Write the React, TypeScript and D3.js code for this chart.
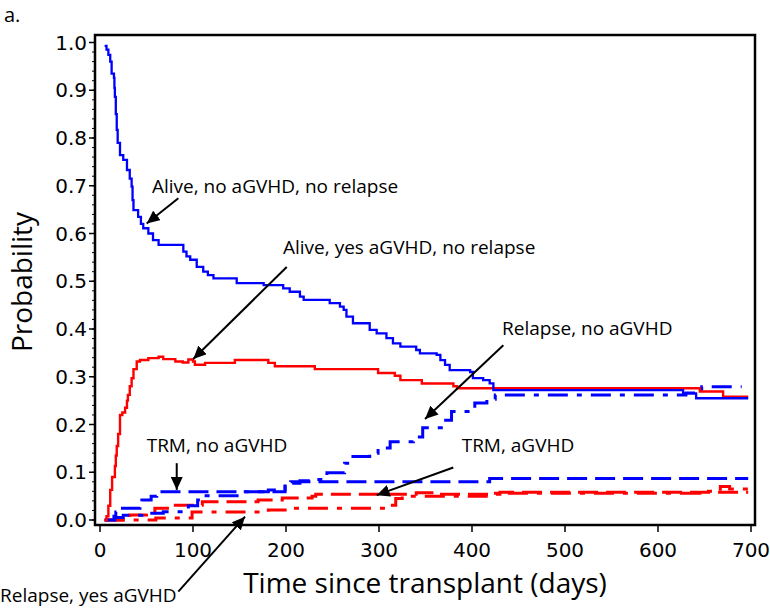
import React from "react";
import * as d3 from "d3";

type Pt = [number, number];

// Step points: [day, probability]
const aliveNoGvhd: Pt[] = [
  [5, 0.993], [7, 0.985], [9, 0.974], [11, 0.96], [12.5, 0.935], [15, 0.926], [15.5, 0.905],
  [16, 0.886], [17, 0.85], [18, 0.817], [19, 0.79], [21.5, 0.764], [25, 0.754], [29, 0.733],
  [32, 0.715], [34, 0.698], [35, 0.67], [36, 0.649], [41, 0.635], [44, 0.62], [46.5, 0.611],
  [52, 0.6], [57, 0.586], [63, 0.576], [89.6, 0.562], [93, 0.552], [97, 0.545], [104, 0.53],
  [111, 0.52], [116, 0.513], [122, 0.506], [147, 0.496], [176, 0.492], [197, 0.485],
  [204, 0.478], [215, 0.468], [219, 0.461], [247, 0.454], [258, 0.447], [262, 0.44],
  [265, 0.426], [272, 0.412], [290, 0.398], [297.5, 0.391], [308, 0.381], [315, 0.37],
  [323, 0.363], [340, 0.356], [344, 0.349], [362, 0.346], [366, 0.335], [371, 0.325],
  [376, 0.314], [398, 0.31], [401, 0.297], [412, 0.293], [419, 0.286], [423, 0.272],
  [627, 0.265], [641, 0.255], [697, 0.255],
];

const aliveYesGvhd: Pt[] = [
  [5, 0], [7, 0.008], [9, 0.03], [11, 0.063], [13, 0.09], [16, 0.113], [17, 0.135], [18, 0.155],
  [19.5, 0.18], [21.5, 0.22], [24, 0.225], [27, 0.235], [29, 0.25], [30, 0.262], [32, 0.28],
  [34, 0.297], [36, 0.316], [39.5, 0.332], [43, 0.335], [52, 0.339], [63, 0.342], [68, 0.337],
  [81, 0.332], [89, 0.33], [95, 0.336], [100, 0.332], [102, 0.325], [113, 0.329], [145, 0.335],
  [181, 0.329], [188, 0.322], [231, 0.316], [299, 0.308], [317, 0.302], [323, 0.293],
  [346, 0.286], [380, 0.28], [384, 0.276], [645, 0.269], [670, 0.258], [697, 0.258],
];

const trmNoGvhd: Pt[] = [
  [5, 0], [15, 0.008], [17, 0.017], [21, 0.0245], [43, 0.035], [45, 0.042], [55, 0.05],
  [61, 0.059], [199, 0.077], [205, 0.08], [419, 0.087], [697, 0.087],
];

const relapseNoGvhd: Pt[] = [
  [15, 0], [16, 0.005], [25, 0.01], [45, 0.014], [68, 0.0175], [95, 0.03], [105, 0.042],
  [109, 0.051], [150, 0.059], [181, 0.063], [199, 0.07], [204, 0.077], [215, 0.082],
  [226, 0.085], [244, 0.099], [263, 0.119], [272, 0.133], [290, 0.14], [299, 0.151],
  [312, 0.164], [337, 0.174], [347, 0.193], [369, 0.209], [378, 0.227], [403, 0.245],
  [416, 0.253], [425, 0.262], [630, 0.266], [647, 0.279], [690, 0.279],
];

const trmGvhd: Pt[] = [
  [5, 0], [32, 0.0105], [50, 0.015], [59, 0.0245], [81, 0.031], [110, 0.038], [170, 0.042],
  [196, 0.046], [228, 0.05], [232, 0.054], [340, 0.057], [360, 0.054], [430, 0.058],
  [697, 0.058],
];

const relapseGvhd: Pt[] = [
  [5, 0], [60, 0.004], [99, 0.017], [181, 0.021], [204, 0.0245], [310, 0.031], [318, 0.045],
  [325, 0.05], [420, 0.056], [645, 0.06], [667, 0.07], [677, 0.065], [697, 0.065],
];

const xTicks = [0, 100, 200, 300, 400, 500, 600, 700];
const yTicks = [0, 0.1, 0.2, 0.3, 0.4, 0.5, 0.6, 0.7, 0.8, 0.9, 1.0];

// annotations: text anchor, arrow tail, arrow tip in data coordinates
const annLabels = [
  "Alive, no aGVHD, no relapse",
  "Alive, yes aGVHD, no relapse",
  "Relapse, no aGVHD",
  "TRM, no aGVHD",
  "TRM, aGVHD",
  "Relapse, yes aGVHD",
];
const annText: Pt[] = [[55.9, 0.685], [196.8, 0.557], [432.3, 0.387], [50.2, 0.143], [388.9, 0.143], [-107.5, -0.171]];
const annTail: Pt[] = [[84.2, 0.674], [200.8, 0.53], [433.7, 0.366], [82.5, 0.119], [379.9, 0.11], [84.2, -0.15]];
const annTip: Pt[] = [[50.2, 0.621], [100.3, 0.337], [349.5, 0.2115], [82.5, 0.063], [297.5, 0.052], [155.9, 0.007]];

const BLUE = "#0000ff";
const RED = "#ff0000";

export default function App() {
  const x = d3.scaleLinear().domain([0, 700]).range([100, 751]);
  const y = d3.scaleLinear().domain([0, 1]).range([520, 42.5]);
  const line = d3
    .line<Pt>()
    .x((d) => x(d[0]))
    .y((d) => y(d[1]))
    .curve(d3.curveStepAfter);

  const frame = { l: 95, t: 35, r: 755, b: 525 };
  const minor = d3.range(0, 1.0001, 0.02);
  const annFont = "'Open Sans', sans-serif";
  const tickFont = "'DejaVu Sans', Verdana, sans-serif";

  const series = [
    { d: relapseGvhd, c: RED, w: 3, dash: "20,9,5,9" },
    { d: trmGvhd, c: RED, w: 3, dash: "20,8" },
    { d: relapseNoGvhd, c: BLUE, w: 3, dash: "20,9,5,9" },
    { d: trmNoGvhd, c: BLUE, w: 3, dash: "20,8" },
    { d: aliveYesGvhd, c: RED, w: 2.4, dash: undefined },
    { d: aliveNoGvhd, c: BLUE, w: 2.3, dash: undefined },
  ];

  return (
    <svg
      width={770}
      height={609}
      style={{ position: "absolute", left: 0, top: 0, background: "#fff" }}
    >
      <defs>
        <marker
          id="ah"
          viewBox="0 0 13 12"
          refX={13}
          refY={6}
          markerWidth={13}
          markerHeight={12}
          markerUnits="userSpaceOnUse"
          orient="auto"
        >
          <path d="M0,0 L13,6 L0,12 z" fill="#000" />
        </marker>
      </defs>
      <rect x={0} y={0} width={770} height={609} fill="#fff" />
      <text x={4} y={22} fontFamily={annFont} fontSize={20} fill="#000">
        a.
      </text>

      {/* frame */}
      <rect
        x={frame.l}
        y={frame.t}
        width={frame.r - frame.l}
        height={frame.b - frame.t}
        fill="none"
        stroke="#000"
        strokeWidth={2.5}
      />

      {/* y ticks */}
      {minor.map((v, i) => (
        <line key={"m" + i} x1={frame.l - 3} x2={frame.l} y1={y(v)} y2={y(v)} stroke="#000" strokeWidth={1} />
      ))}
      {yTicks.map((v) => (
        <g key={"y" + v}>
          <line x1={frame.l - 6} x2={frame.l} y1={y(v)} y2={y(v)} stroke="#000" strokeWidth={1.5} />
          <text
            x={87}
            y={y(v)}
            dy="0.36em"
            textAnchor="end"
            fontFamily={tickFont}
            fontSize={20}
            fill="#000"
          >
            {d3.format(".1f")(v)}
          </text>
        </g>
      ))}

      {/* x ticks */}
      {xTicks.map((v) => (
        <g key={"x" + v}>
          <line x1={x(v)} x2={x(v)} y1={frame.b} y2={frame.b + 7} stroke="#000" strokeWidth={1.5} />
          <text x={x(v)} y={557} textAnchor="middle" fontFamily={tickFont} fontSize={20} fill="#000">
            {v}
          </text>
        </g>
      ))}

      {/* axis titles */}
      <text x={425} y={593} textAnchor="middle" fontFamily={annFont} fontSize={28} fill="#000">
        Time since transplant (days)
      </text>
      <text
        transform={`translate(32,282) rotate(-90)`}
        textAnchor="middle"
        fontFamily={annFont}
        fontSize={28}
        fill="#000"
      >
        Probability
      </text>

      {/* series */}
      {series.map((s, i) => (
        <path
          key={"s" + i}
          d={line(s.d) || ""}
          fill="none"
          stroke={s.c}
          strokeWidth={s.w}
          strokeDasharray={s.dash}
        />
      ))}

      {/* annotations */}
      {annLabels.map((t, i) => (
        <g key={"a" + i}>
          <text
            x={x(annText[i][0])}
            y={y(annText[i][1])}
            fontFamily={annFont}
            fontSize={19}
            fill="#000"
          >
            {t}
          </text>
          <line
            x1={x(annTail[i][0])}
            y1={y(annTail[i][1])}
            x2={x(annTip[i][0])}
            y2={y(annTip[i][1])}
            stroke="#000"
            strokeWidth={2}
            markerEnd="url(#ah)"
          />
        </g>
      ))}
    </svg>
  );
}
